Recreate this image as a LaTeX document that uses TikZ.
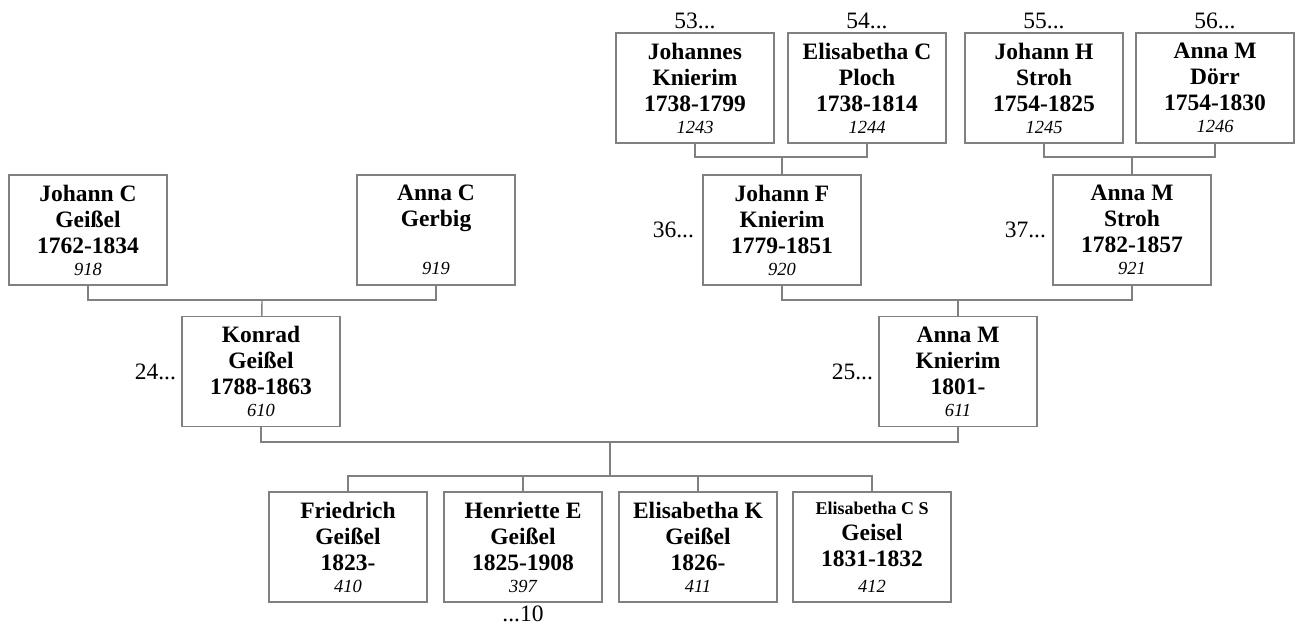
\documentclass[tikz,border=0pt]{standalone}
\usepackage{fontspec}
\setmainfont{Liberation Serif}
\usetikzlibrary{positioning}
\newcommand{\pid}[1]{{\fontsize{9.25}{11}\selectfont\mdseries\itshape #1}}

\begin{document}
\begin{tikzpicture}[
    x=0.5pt, y=-0.5pt,
    % styles
    person/.style={rectangle, draw=black!50, line width=0.7pt, minimum width=79pt, minimum height=55pt, inner sep=0pt, align=center, font=\fontsize{11.75}{13}\selectfont\bfseries},
    link/.style={draw=black!50, line width=0.7pt},
    more/.style={inner sep=0pt, font=\fontsize{11.75}{13}\selectfont}
]
\useasboundingbox (0,0) rectangle (1299,626);

% ==================== great-grandparents ====================
\node[person] (johannes) at (695,88) {Johannes\\Knierim\\1738-1799\\[-2pt]\pid{1243}};
\node[person] (elisabethc) at (867,88) {Elisabetha C\\Ploch\\1738-1814\\[-2pt]\pid{1244}};
\node[person] (johannh) at (1044,88) {Johann H\\Stroh\\1754-1825\\[-2pt]\pid{1245}};
\node[person] (annamd) at (1215,88) {Anna M\\Dörr\\1754-1830\\[-2pt]\pid{1246}};

\node[more, above=1.5pt of johannes] (ref53) {53...};
\node[more, above=1.5pt of elisabethc] (ref54) {54...};
\node[more, above=1.5pt of johannh] (ref55) {55...};
\node[more, above=1.5pt of annamd] (ref56) {56...};

% ==================== grandparents ====================
\node[person] (johannc) at (88,230) {Johann C\\Geißel\\1762-1834\\[-2pt]\pid{918}};
\node[person] (annac) at (436,230) {Anna C\\Gerbig\\\mbox{}\\[-2pt]\pid{919}};
\node[person] (johannf) at (782,230) {Johann F\\Knierim\\1779-1851\\[-2pt]\pid{920}};
\node[person] (annams) at (1132,230) {Anna M\\Stroh\\1782-1857\\[-2pt]\pid{921}};

\node[more, left=4pt of johannf] (ref36) {36...};
\node[more, left=3pt of annams] (ref37) {37...};

% ==================== parents ====================
\node[person] (konrad) at (261,371.5) {Konrad\\Geißel\\1788-1863\\[-2pt]\pid{610}};
\node[person] (annamk) at (958,371.5) {Anna M\\Knierim\\1801-\\[-2pt]\pid{611}};

\node[more, left=2.5pt of konrad] (ref24) {24...};
\node[more, left=2.5pt of annamk] (ref25) {25...};

% ==================== children ====================
\node[person] (friedrich) at (348,547) {Friedrich\\Geißel\\1823-\\[-2pt]\pid{410}};
\node[person] (henriette) at (523,547) {Henriette E\\Geißel\\1825-1908\\[-2pt]\pid{397}};
\node[person] (elisabethk) at (698,547) {Elisabetha K\\Geißel\\1826-\\[-2pt]\pid{411}};
\node[person] (elisabethcs) at (872,547) {{\fontsize{9}{10}\selectfont Elisabetha C S}\\Geisel\\1831-1832\\\pid{412}};

\node[more, below=1.5pt of henriette] (ref10) {...10};

% ==================== couples ====================
\coordinate (u1) at (782,157);
\coordinate (u2) at (1132,157);
\coordinate (u3) at (262,300);
\coordinate (u4) at (958,300);
\coordinate (u5) at (610,442);
\coordinate (kids) at (610,476);

\draw[link] (johannes.south) |- (u1) -| (elisabethc.south);
\draw[link] (u1) -- (johannf);
\draw[link] (johannh.south) |- (u2) -| (annamd.south);
\draw[link] (u2) -- (annams);
\draw[link] (johannc.south) |- (u3) -| (annac.south);
\draw[link] (u3) -- (konrad);
\draw[link] (johannf.south) |- (u4) -| (annams.south);
\draw[link] (u4) -- (annamk);
\draw[link] (konrad.south) |- (u5) -| (annamk.south);

% geschwister
\draw[link] (u5) -- (kids);
\draw[link] (friedrich.north) |- (kids) -| (elisabethcs.north);
\draw[link] (henriette.north) -- (henriette.north |- kids);
\draw[link] (elisabethk.north) -- (elisabethk.north |- kids);

\end{tikzpicture}
\end{document}
